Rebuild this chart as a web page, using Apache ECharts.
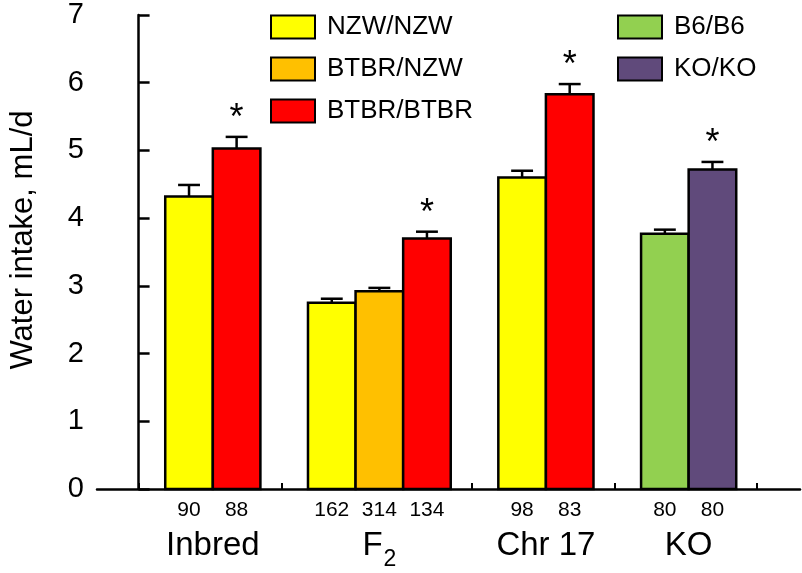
<!DOCTYPE html>
<html>
<head>
<meta charset="utf-8">
<script src="https://cdn.jsdelivr.net/npm/echarts@6/dist/echarts.min.js"></script>
<style>
html,body{margin:0;padding:0;background:#fff;}
#chart{width:802px;height:573px;}
</style>
</head>
<body>
<div id="chart"></div>
<script>
// ---- data ----
const groups = ['Inbred', 'F2', 'Chr 17', 'KO'];
const genotypes = ['NZW/NZW', 'BTBR/NZW', 'BTBR/BTBR', 'B6/B6', 'KO/KO'];
const groupGenotypes = [
  ['NZW/NZW', 'BTBR/BTBR'],
  ['NZW/NZW', 'BTBR/NZW', 'BTBR/BTBR'],
  ['NZW/NZW', 'BTBR/BTBR'],
  ['B6/B6', 'KO/KO']
];
const means = [[4.32, 5.03], [2.75, 2.92, 3.70], [4.60, 5.83], [3.77, 4.72]];
const sems = [[0.17, 0.17], [0.06, 0.05, 0.10], [0.10, 0.15], [0.06, 0.11]];
const counts = [[90, 88], [162, 314, 134], [98, 83], [80, 80]];
const significant = [[0, 1], [0, 0, 1], [0, 1], [0, 1]];
const yTicks = [0, 1, 2, 3, 4, 5, 6, 7];
const yAxisTitle = 'Water intake, mL/d';

// ---- styles ----
const FONT = '"Liberation Sans", Arial, sans-serif';
const colors = {
  'NZW/NZW': '#FFFF00',
  'BTBR/NZW': '#FFC000',
  'BTBR/BTBR': '#FF0000',
  'B6/B6': '#92D050',
  'KO/KO': '#604A7B'
};
const LEAD = 0.56;   // gap (in bar widths) between group boundary and first bar

// ---- derived layout in axis units (1 unit = 1 bar width) ----
const boundaries = [0];
groups.forEach((g, i) => boundaries.push(boundaries[i] + groupGenotypes[i].length + 1));
const barCenters = [];
const countMap = {};
const groupCenters = [];
const groupMap = {};
const seriesData = {};
genotypes.forEach(g => seriesData[g] = []);
groups.forEach((g, i) => {
  const start = boundaries[i] + LEAD;
  groupGenotypes[i].forEach((gt, j) => {
    const x0 = start + j;
    seriesData[gt].push([x0, means[i][j], sems[i][j], significant[i][j]]);
    const c = x0 + 0.5;
    barCenters.push(c);
    countMap[c.toFixed(3)] = counts[i][j];
  });
  const gc = start + groupGenotypes[i].length / 2;
  groupCenters.push(gc);
  groupMap[gc.toFixed(3)] = g;
});

function renderItem(params, api) {
  const x0 = api.value(0), v = api.value(1), e = api.value(2), sig = api.value(3);
  const tl = api.coord([x0, v]);
  const br = api.coord([x0 + 1, 0]);
  const xc = (tl[0] + br[0]) / 2;
  const capY = api.coord([x0, v + e])[1];
  const capHalf = (br[0] - tl[0]) * 0.23;
  const children = [
    { type: 'line', shape: { x1: xc, y1: tl[1], x2: xc, y2: capY }, style: { stroke: '#000', lineWidth: 2.5 } },
    { type: 'line', shape: { x1: xc - capHalf, y1: capY, x2: xc + capHalf, y2: capY }, style: { stroke: '#000', lineWidth: 2.5 } },
    { type: 'rect', shape: { x: tl[0], y: tl[1], width: br[0] - tl[0], height: br[1] - tl[1] },
      style: { fill: api.visual('color'), stroke: '#000', lineWidth: 2.5 } }
  ];
  if (sig) {
    children.push({ type: 'text', x: xc, y: capY - 18,
      style: { text: '*', fontSize: 36, fontFamily: FONT, fill: '#000', align: 'center', verticalAlign: 'middle' } });
  }
  return { type: 'group', children };
}

const chart = echarts.init(document.getElementById('chart'), null, { renderer: 'canvas' });
const xMin = -0.874, xMax = 13.9;

const legendCommon = {
  orient: 'vertical', itemWidth: 44, itemHeight: 23, itemGap: 16, icon: 'rect', padding: 0,
  selectedMode: false,
  itemStyle: { borderColor: '#000', borderWidth: 2 },
  textStyle: { fontSize: 26, lineHeight: 26, color: '#000', fontFamily: FONT, padding: [0, 0, 0, 7] }
};

chart.setOption({
  animation: false,
  backgroundColor: '#fff',
  legend: [
    Object.assign({ data: ['NZW/NZW', 'BTBR/NZW', 'BTBR/BTBR'], left: 270, top: 14 }, legendCommon),
    Object.assign({ data: ['B6/B6', 'KO/KO'], left: 617, top: 14 }, legendCommon)
  ],
  grid: { left: 95, right: 2, top: 15, bottom: 84, containLabel: false },
  xAxis: [
    {
      type: 'value', min: xMin, max: xMax, position: 'bottom',
      axisLine: { show: true, onZero: false, lineStyle: { color: '#000', width: 2.5 } },
      axisTick: { show: true, inside: true, length: 6, customValues: boundaries, lineStyle: { color: '#000', width: 2 } },
      axisLabel: { customValues: barCenters, formatter: v => String(countMap[v.toFixed(3)]),
        fontSize: 21, color: '#000', fontFamily: FONT, margin: 11 },
      splitLine: { show: false }
    },
    {
      type: 'value', min: xMin, max: xMax, position: 'bottom',
      axisLine: { show: false }, axisTick: { show: false },
      axisLabel: {
        customValues: groupCenters,
        formatter: v => {
          const g = groupMap[v.toFixed(3)];
          if (g === 'F2') return '{a|F}{s|2}';
          return '{a|' + g + '}';
        },
        margin: 40,
        rich: {
          a: { fontSize: 33, lineHeight: 33, color: '#000', fontFamily: FONT, verticalAlign: 'top' },
          s: { fontSize: 23, lineHeight: 23, color: '#000', fontFamily: FONT, verticalAlign: 'top', padding: [19, 0, 0, 1] }
        }
      },
      splitLine: { show: false }
    }
  ],
  yAxis: {
    type: 'value', min: 0, max: 7, interval: 1,
    axisLine: { show: true, lineStyle: { color: '#000', width: 2.5 } },
    axisTick: { show: true, inside: true, length: 11, lineStyle: { color: '#000', width: 2.5 } },
    axisLabel: { fontSize: 29, color: '#000', fontFamily: FONT, margin: 13,
      formatter: v => yTicks.indexOf(v) >= 0 ? String(v) : '' },
    splitLine: { show: false },
    name: yAxisTitle, nameLocation: 'middle', nameGap: 58,
    nameTextStyle: { fontSize: 31, color: '#000', fontFamily: FONT, padding: [0, 0, 0, 24] }
  },
  series: genotypes.map(g => ({
    type: 'custom', name: g, renderItem,
    itemStyle: { color: colors[g] },
    encode: { x: 0, y: 1 },
    data: seriesData[g]
  }))
});
</script>
</body>
</html>
